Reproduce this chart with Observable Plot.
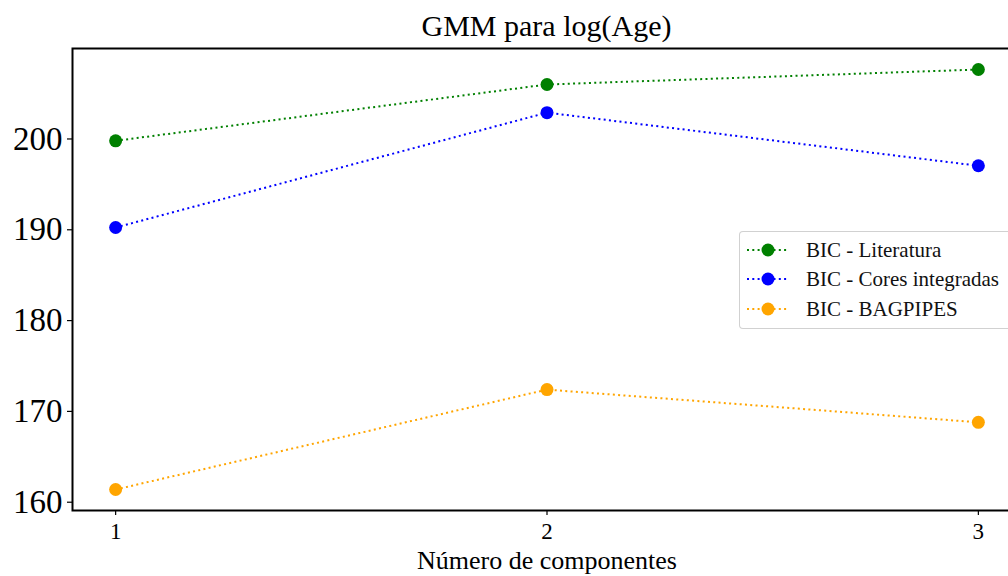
<!DOCTYPE html>
<html>
<head>
<meta charset="utf-8">
<script src="https://cdn.jsdelivr.net/npm/d3@7"></script>
<script src="https://cdn.jsdelivr.net/npm/@observablehq/plot@0.6"></script>
<style>
  html, body { margin: 0; padding: 0; background: white; overflow: hidden; }
  #wrap { position: relative; width: 1008px; height: 576px; font-family: "Liberation Serif", "Times New Roman", serif; }
  #title { position: relative; height: 46px; }
  #title span { position: absolute; left: 546.5px; top: 11px; transform: translateX(-50%); font-size: 30px; line-height: 30px; white-space: nowrap; color: #000; }
  #legend { position: absolute; left: 739px; top: 231px; width: 290px; height: 96px; border: 1px solid rgba(204,204,204,0.9); border-radius: 4px; background: rgba(255,255,255,0.8); }
  .row { position: absolute; left: 0; height: 30px; display: flex; align-items: center; }
  .row svg { margin-left: 6px; }
  .row span { margin-left: 16px; font-size: 21px; line-height: 21px; white-space: nowrap; color: #111; }
</style>
</head>
<body>
<div id="wrap">
  <div id="title"><span>GMM para log(Age)</span></div>
  <div id="chart"></div>
  <div id="legend"></div>
</div>
<script>
const titleText = "GMM para log(Age)";
const xLabel = "Número de componentes";
const components = [1, 2, 3];
const seriesNames = ["BIC - Literatura", "BIC - Cores integradas", "BIC - BAGPIPES"];
const seriesColors = ["#008000", "#0000ff", "#ffa500"];
const literatura = [199.8, 206.0, 207.65];
const coresIntegradas = [190.25, 202.9, 197.05];
const bagpipes = [161.4, 172.4, 168.8];
const yTicks = [160, 170, 180, 190, 200];
const xTicks = [1, 2, 3];

const seriesValues = [literatura, coresIntegradas, bagpipes];
const data = [];
seriesValues.forEach((vals, i) => {
  vals.forEach((v, j) => data.push({series: seriesNames[i], x: components[j], y: v}));
});

function padded(ext) {
  const m = (ext[1] - ext[0]) * 0.05;
  return [ext[0] - m, ext[1] + m];
}
const yDomain = padded(d3.extent(data, d => d.y));
const xDomain = padded(d3.extent(components));

const font = '"Liberation Serif", "Times New Roman", serif';

const plot = Plot.plot({
  width: 1008,
  height: 530,
  marginTop: 2,
  marginBottom: 66,
  marginLeft: 72,
  marginRight: -13,
  style: {fontFamily: font, color: "#000", background: "white", overflow: "hidden"},
  x: {domain: xDomain, ticks: xTicks, label: null},
  y: {domain: yDomain, ticks: yTicks, label: null},
  color: {domain: seriesNames, range: seriesColors},
  marks: [
    Plot.axisY({ticks: yTicks, tickSize: 5, tickPadding: 5, fontSize: 33, label: null, stroke: "black", strokeWidth: 1.2, tickFormat: d3.format("d")}),
    Plot.axisX({ticks: xTicks, tickSize: 5, tickPadding: 7, fontSize: 23, label: null, stroke: "black", strokeWidth: 1.2, tickFormat: d3.format("d")}),
    Plot.line(data, {x: "x", y: "y", z: "series", stroke: "series", strokeWidth: 2, strokeDasharray: "2,3.3", strokeLinecap: "butt"}),
    Plot.dot(data, {x: "x", y: "y", fill: "series", r: 6.5, stroke: null}),
    Plot.frame({stroke: "black", strokeWidth: 2}),
    Plot.text([xLabel], {frameAnchor: "bottom", lineAnchor: "top", dy: 40, fontSize: 26, text: d => d, fill: "black"})
  ]
});
document.getElementById("chart").appendChild(plot);

// Legend
const legend = d3.select("#legend");
const rowTops = [3, 32, 62];
seriesNames.forEach((name, i) => {
  const row = legend.append("div").attr("class", "row").style("top", rowTops[i] + "px");
  const sw = row.append("svg").attr("width", 44).attr("height", 14);
  sw.append("line").attr("x1", 1).attr("x2", 43).attr("y1", 7).attr("y2", 7)
    .attr("stroke", seriesColors[i]).attr("stroke-width", 2).attr("stroke-dasharray", "2,3.3");
  sw.append("circle").attr("cx", 22).attr("cy", 7).attr("r", 6.5).attr("fill", seriesColors[i]);
  row.append("span").text(name);
});
</script>
</body>
</html>
